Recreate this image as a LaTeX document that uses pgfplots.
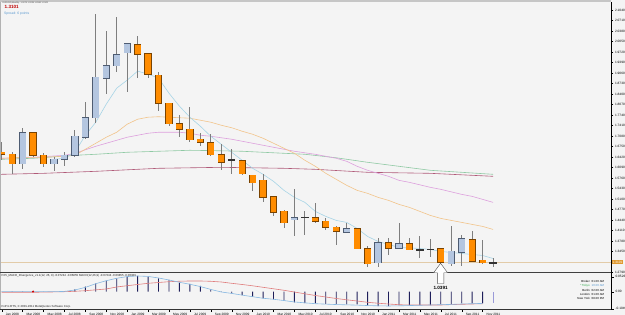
\documentclass[border=0pt]{standalone}
\usepackage{pgfplots}
\pgfplotsset{compat=1.18}
\usepackage{pgfplotstable}
\usepackage{fontspec}
\setmainfont{Liberation Sans}
\definecolor{bg}{HTML}{F4F4F4}
\definecolor{bullf}{HTML}{B4C6E0}
\definecolor{bullo}{HTML}{4E5C72}
\definecolor{bearf}{HTML}{FF8C00}
\definecolor{bearo}{HTML}{7A4300}
\definecolor{wick}{HTML}{7E7E7E}
\definecolor{maA}{HTML}{A6D4E6}
\definecolor{maB}{HTML}{F2C48A}
\definecolor{maC}{HTML}{DDA0DD}
\definecolor{maD}{HTML}{8FC9A4}
\definecolor{maE}{HTML}{B05A78}
\definecolor{pline}{HTML}{E2CBA8}
\definecolor{navy}{HTML}{1E1E5A}
\definecolor{lav}{HTML}{9A9AD8}
\definecolor{mblue}{HTML}{86B8E2}
\definecolor{mred}{HTML}{E07C7C}
\definecolor{curlab}{HTML}{E09A30}
\definecolor{tokyo}{HTML}{2EA84A}
\definecolor{tokyot}{HTML}{5C9AD0}
\newcommand\lab{\fontsize{3.2}{3.6}\selectfont}
\newcommand\tinyf{\fontsize{2.9}{3.3}\selectfont}

% candles: x open high low close
\pgfplotstableread{
x o h l c
3 1.6212 1.7334 1.6054 1.7189
6 1.6212 1.6420 1.5979 1.6347
7 1.6347 1.6577 1.6136 1.6473
8 1.6473 1.7261 1.6420 1.7072
9 1.7050 1.8135 1.7000 1.7662
10 1.7662 2.0918 1.7492 1.8922
11 1.8891 2.0382 1.8387 1.9288
12 1.9288 2.0814 1.9099 1.9625
13 1.9698 1.9994 1.8469 1.9972
29 1.4447 1.5402 1.3920 1.4510
34 1.4056 1.4352 1.4037 1.4163
37 1.3091 1.3867 1.2953 1.3722
39 1.3552 1.4339 1.3533 1.3690
44 1.3060 1.4235 1.3006 1.3447
45 1.3425 1.3952 1.3006 1.3848
}\bull
\pgfplotstableread{
x o h l c
1 1.6568 1.6883 1.6316 1.6505
2 1.6505 1.6577 1.5875 1.6212
4 1.7189 1.7208 1.6420 1.6473
5 1.6473 1.6546 1.6105 1.6212
14 1.9941 2.0224 1.8891 1.9647
15 1.9657 1.9670 1.8891 1.9027
16 1.8995 1.9099 1.7860 1.8103
17 1.8103 1.8122 1.7387 1.7473
18 1.7473 1.7734 1.7050 1.7293
19 1.7293 1.7977 1.6893 1.6968
20 1.6978 1.7176 1.6757 1.6893
21 1.6874 1.7157 1.6451 1.6495
22 1.6495 1.6820 1.6023 1.6262
24 1.6294 1.6338 1.5843 1.5897
25 1.5843 1.5865 1.5348 1.5613
26 1.5685 1.5897 1.5001 1.5159
27 1.5159 1.5181 1.4551 1.4686
28 1.4708 1.4740 1.4182 1.4352
31 1.4510 1.4983 1.4352 1.4393
32 1.4393 1.4510 1.4109 1.4213
33 1.4213 1.4235 1.3659 1.4078
35 1.4163 1.4182 1.3511 1.3533
36 1.3533 1.3605 1.2953 1.3060
38 1.3722 1.3867 1.3321 1.3552
40 1.3690 1.3867 1.3479 1.3501
43 1.3533 1.3552 1.3091 1.3110
46 1.3816 1.4078 1.3110 1.3142
47 1.3164 1.3794 1.3060 1.3091
}\bear
\pgfplotstableread{
x o h l c
23 1.6325 1.6685 1.5897 1.6306
30 1.4530 1.4708 1.3952 1.4528
41 1.3502 1.3930 1.3236 1.3500
42 1.3521 1.3826 1.3268 1.3519
48 1.3074 1.3229 1.2961 1.3101
}\doji
% moving averages
\pgfplotstableread{
x y
6 1.6347
7 1.6379
8 1.6568
9 1.7104
10 1.7514
11 1.8081
12 1.8585
13 1.8837
14 1.9121
15 1.9027
16 1.8900
17 1.8428
18 1.8018
19 1.7671
20 1.7388
21 1.7072
22 1.6820
23 1.6568
24 1.6316
25 1.6064
26 1.5875
27 1.5654
28 1.5370
29 1.5150
30 1.4992
31 1.4708
32 1.4551
33 1.4425
34 1.4362
35 1.4172
36 1.3920
37 1.3763
38 1.3668
39 1.3574
40 1.3558
41 1.3542
42 1.3511
43 1.3448
44 1.3416
45 1.3384
46 1.3353
47 1.3321
48 1.3227
}\maa
\pgfplotstableread{
x y
0.84 1.6379
1 1.6379
3 1.6410
5 1.6410
7 1.6442
8 1.6473
10 1.6852
11 1.7041
12 1.7198
13 1.7451
14 1.7608
15 1.7671
16 1.7687
17 1.7671
18 1.7655
19 1.7640
20 1.7577
21 1.7514
22 1.7419
23 1.7340
24 1.7230
25 1.7135
26 1.7009
27 1.6852
28 1.6694
29 1.6536
30 1.6316
31 1.6127
32 1.5906
33 1.5717
34 1.5528
35 1.5370
36 1.5276
37 1.5150
38 1.5055
39 1.4929
40 1.4834
41 1.4708
42 1.4582
43 1.4488
44 1.4425
45 1.4362
46 1.4299
47 1.4236
48 1.4141
}\mab
\pgfplotstableread{
x y
0.84 1.6379
1 1.6379
4 1.6410
7 1.6473
8 1.6536
10 1.6757
12 1.6946
13 1.7041
14 1.7104
15 1.7167
16 1.7198
17 1.7198
18 1.7198
19 1.7167
20 1.7104
21 1.7072
22 1.7025
23 1.6978
24 1.6915
25 1.6852
26 1.6789
27 1.6726
28 1.6663
29 1.6600
30 1.6552
31 1.6505
32 1.6442
33 1.6379
34 1.6284
35 1.6127
36 1.6001
37 1.5906
38 1.5812
39 1.5685
40 1.5622
41 1.5544
42 1.5465
43 1.5402
44 1.5323
45 1.5244
46 1.5181
47 1.5087
48 1.4992
}\mac
\pgfplotstableread{
x y
0.84 1.6347
1 1.6347
4 1.6379
8 1.6473
10 1.6505
13 1.6568
16 1.6600
19 1.6631
22 1.6615
24 1.6600
27 1.6552
30 1.6505
33 1.6395
36 1.6253
39 1.6127
42 1.6001
45 1.5938
48 1.5875
}\mad
\pgfplotstableread{
x y
0.84 1.5875
1 1.5875
5 1.5906
10 1.5969
16 1.6064
22 1.6095
28 1.6064
31 1.6032
36 1.5938
42 1.5906
48 1.5812
}\mae
% MACD: x hist main signal
\pgfplotstableread{
x h m s
1 0.0005 0.0000 -0.0021
2 0.0007 0.0000 -0.0021
3 0.0007 0.0000 -0.0021
4 0.0005 0.0005 -0.0021
5 0.0003 0.0000 -0.0015
6 0.0003 0.0000 -0.0008
7 0.0007 0.0010 0.0000
8 0.0084 0.0060 0.0014
9 0.0175 0.0150 0.0035
10 0.0294 0.0280 0.0065
11 0.0385 0.0385 0.0095
12 0.0469 0.0470 0.0165
13 0.0525 0.0530 0.0210
14 0.0550 0.0550 0.0252
15 0.0525 0.0535 0.0294
16 0.0469 0.0480 0.0322
17 0.0410 0.0410 0.0350
18 0.0315 0.0330 0.0367
19 0.0270 0.0260 0.0375
20 0.0200 0.0180 0.0375
21 0.0084 0.0080 0.0364
22 -0.0010 -0.0010 0.0340
23 -0.0056 -0.0060 0.0294
24 -0.0116 -0.0120 0.0252
25 -0.0175 -0.0175 0.0207
26 -0.0231 -0.0230 0.0154
27 -0.0266 -0.0265 0.0102
28 -0.0315 -0.0310 0.0049
29 -0.0371 -0.0360 -0.0011
30 -0.0396 -0.0390 -0.0074
31 -0.0413 -0.0420 -0.0133
32 -0.0424 -0.0435 -0.0186
33 -0.0431 -0.0450 -0.0238
34 -0.0441 -0.0460 -0.0284
35 -0.0448 -0.0470 -0.0326
36 -0.0476 -0.0485 -0.0371
37 -0.0501 -0.0495 -0.0403
38 -0.0501 -0.0500 -0.0431
39 -0.0476 -0.0495 -0.0455
40 -0.0466 -0.0485 -0.0466
41 -0.0466 -0.0475 -0.0466
42 -0.0466 -0.0465 -0.0466
43 -0.0441 -0.0455 -0.0466
44 -0.0441 -0.0445 -0.0452
45 -0.0406 -0.0430 -0.0441
46 -0.0406 -0.0420 -0.0431
47 -0.0406 -0.0410 -0.0420
}\macd

\pgfplotsset{
  wickstyle/.style={draw=none, mark=none, forget plot, error bars/.cd, y dir=both, y explicit, error mark=none,
    error bar style={draw=wick, solid, line width=0.8pt}},
  bodystyle/.style={draw=none, mark=none, forget plot, error bars/.cd, y dir=both, y explicit, error mark=none,
    error bar style={draw=#1, solid, line width=7.3pt}},
  fillstyle/.style={draw=none, mark=none, forget plot, error bars/.cd, y dir=both, y explicit, error mark=none,
    error bar style={draw=#1, solid, line width=5.9pt}},
}

\begin{document}
\begin{tikzpicture}
\useasboundingbox (0,0) rectangle (625pt,-315pt);
\fill[bg] (0,0) rectangle (625pt,-315pt);

\begin{axis}[
  at={(0pt,-2pt)}, anchor=north west,
  scale only axis, width=611.3pt, height=270.5pt,
  xmin=0.837, xmax=59.31, ymin=1.2786, ymax=2.1296,
  axis line style={draw=none},
  xtick=\empty,
  ytick={1.2790,1.3450,1.3780,1.4110,1.4440,1.4770,1.5100,1.5430,1.5760,1.6090,1.6420,1.6750,1.7080,1.7410,1.7740,1.8070,1.8400,1.8730,1.9060,1.9390,1.9720,2.0050,2.0380,2.0710,2.1040},
  ytick pos=right, yticklabel pos=right,
  tick align=outside, major tick length=2pt,
  every tick/.style={black, line width=0.3pt},
  yticklabel style={font=\lab, xshift=-1.8pt, /pgf/number format/.cd, fixed, fixed zerofill, precision=4, assume math mode=true},
  clip=true,
]
% moving averages
\addplot[maE, line width=0.6pt] table[x=x,y=y] {\mae};
\addplot[maD, line width=0.6pt] table[x=x,y=y] {\mad};
\addplot[maC, line width=0.6pt] table[x=x,y=y] {\mac};
\addplot[maB, line width=0.6pt] table[x=x,y=y] {\mab};
\addplot[maA, line width=0.6pt] table[x=x,y=y] {\maa};
% current price line
\addplot[pline, line width=0.7pt] coordinates {(0.84,1.3101) (59.31,1.3101)};
% wicks
\addplot[wickstyle] table[x=x, y expr={(\thisrow{h}+\thisrow{l})/2}, y error expr={(\thisrow{h}-\thisrow{l})/2}] {\bull};
\addplot[wickstyle] table[x=x, y expr={(\thisrow{h}+\thisrow{l})/2}, y error expr={(\thisrow{h}-\thisrow{l})/2}] {\bear};
\addplot[wickstyle] table[x=x, y expr={(\thisrow{h}+\thisrow{l})/2}, y error expr={(\thisrow{h}-\thisrow{l})/2}] {\doji};
% bullish bodies
\addplot[bodystyle=bullo] table[x=x, y expr={(\thisrow{o}+\thisrow{c})/2}, y error expr={abs(\thisrow{o}-\thisrow{c})/2+0.0020}] {\bull};
\addplot[fillstyle=bullf] table[x=x, y expr={(\thisrow{o}+\thisrow{c})/2}, y error expr={abs(\thisrow{o}-\thisrow{c})/2}] {\bull};
% bearish bodies
\addplot[bodystyle=bearo] table[x=x, y expr={(\thisrow{o}+\thisrow{c})/2}, y error expr={abs(\thisrow{o}-\thisrow{c})/2+0.0020}] {\bear};
\addplot[fillstyle=bearf] table[x=x, y expr={(\thisrow{o}+\thisrow{c})/2}, y error expr={abs(\thisrow{o}-\thisrow{c})/2}] {\bear};
% doji bodies
\addplot[bodystyle=black!80] table[x=x, y expr={(\thisrow{o}+\thisrow{c})/2}, y error expr={abs(\thisrow{o}-\thisrow{c})/2+0.0016}] {\doji};
\end{axis}

\begin{axis}[
  at={(0pt,-272.5pt)}, anchor=north west,
  scale only axis, width=611.3pt, height=37pt,
  xmin=0.837, xmax=59.31, ymin=-0.0623, ymax=0.0672,
  axis line style={draw=none},
  scaled y ticks=false,
  ytick={-0.0600,0,0.0526}, yticklabels={-0.1049,0.00,0.0526},
  ytick pos=right, yticklabel pos=right,
  xtick={1,3,...,47},
  xticklabels={Jan 2008,Mar 2008,May 2008,Jul 2008,Sep 2008,Nov 2008,Jan 2009,Mar 2009,May 2009,Jul 2009,Sep 2009,Nov 2009,Jan 2010,Mar 2010,May 2010,Jul 2010,Sep 2010,Nov 2010,Jan 2011,Mar 2011,May 2011,Jul 2011,Sep 2011,Nov 2011},
  xtick pos=bottom,
  tick align=outside, major tick length=2.5pt,
  every tick/.style={black, line width=0.3pt},
  xticklabel style={font=\lab, anchor=north west, xshift=0.6pt, yshift=2.3pt},
  yticklabel style={font=\lab, xshift=-1.8pt},
  clip=true,
]
\addplot[ybar, bar width=0.9pt, fill=navy, draw=none] table[x=x,y=h] {\macd};
\addplot[ybar, bar width=0.9pt, fill=lav, draw=none] coordinates {(48,-0.0406)};
\addplot[mred, line width=0.6pt] table[x=x,y=s] {\macd};
\addplot[mblue, line width=0.6pt] table[x=x,y=m] {\macd};
\addplot[only marks, mark=*, mark size=0.8pt, red!80!black] coordinates {(4,0.0006)};
\end{axis}

% frame lines
\fill[gray!45] (0,0) rectangle (611.3pt,-2pt);
\draw[gray!60, line width=0.6pt] (0.3pt,-2pt) -- (0.3pt,-309.5pt);
\draw[black!75, line width=0.8pt] (0,-272.5pt) -- (611.3pt,-272.5pt);
\draw[black, line width=0.5pt] (611.3pt,-2pt) -- (611.3pt,-309.5pt);
\draw[black!80, line width=0.5pt] (0,-309.5pt) -- (611.3pt,-309.5pt);

% current price label
\node[fill=curlab, text=white, font=\lab, inner xsep=0.8pt, inner ysep=0.6pt, anchor=west] at (611.6pt,-262pt) {1.3101};

% header texts
\node[anchor=west, font=\fontsize{2.1}{2.5}\selectfont, text=black!80, inner sep=0pt] at (2.5pt,-3.2pt) {EURUSD,Monthly\ \ 1.3074 1.3229 1.2961 1.3101};
\node[anchor=west, font=\fontsize{4.6}{5}\selectfont\bfseries, text=red!75!black, inner sep=0pt] at (4.5pt,-7.4pt) {1.3101};
\node[anchor=west, font=\fontsize{3.4}{4}\selectfont, text=tokyot, inner sep=0pt] at (4pt,-13.3pt) {Spread: 6 points};

% indicator texts
\node[anchor=west, font=\tinyf, text=black!85, inner sep=0pt] at (1.5pt,-275.8pt) {FX5\_MACD\_Divergence\_v1.1(12, 26, 9) -0.07244 -0.06855 MACD(12,26,9) -0.07244 -0.06855 -0.00389};
\node[anchor=west, font=\tinyf, text=black!85, inner sep=0pt] at (1.5pt,-306.5pt) {FxPro RTS, © 2001-2011 MetaQuotes Software Corp.};

% clocks
\begin{scope}[font=\tinyf, inner sep=0pt]
\node[anchor=east] at (590pt,-281.7pt) {Broker};
\node[anchor=west] at (591.5pt,-281.7pt) {01:20 AM};
\node[anchor=east, text=tokyo] at (590pt,-285.9pt) {* Tokyo};
\node[anchor=west, text=tokyot] at (591.5pt,-285.9pt) {10:20 AM};
\node[anchor=east] at (590pt,-290.1pt) {Berlin};
\node[anchor=west] at (591.5pt,-290.1pt) {02:20 AM};
\node[anchor=east] at (590pt,-294.3pt) {London};
\node[anchor=west] at (591.5pt,-294.3pt) {01:20 AM};
\node[anchor=east] at (590pt,-298.5pt) {New York};
\node[anchor=west] at (591.5pt,-298.5pt) {08:20 PM};
\end{scope}

% low marker arrow
\draw[gray!60!black, fill=white, line width=0.4pt] (433.6pt,-272.8pt) -- (440.6pt,-263.3pt) -- (447.6pt,-272.8pt) -- (443.9pt,-272.8pt) -- (443.9pt,-283.5pt) -- (437.3pt,-283.5pt) -- (437.3pt,-272.8pt) -- cycle;
\node[font=\fontsize{4.6}{5}\selectfont\bfseries, inner sep=0pt] at (440.6pt,-288.3pt) {1.0391};
\end{tikzpicture}
\end{document}
